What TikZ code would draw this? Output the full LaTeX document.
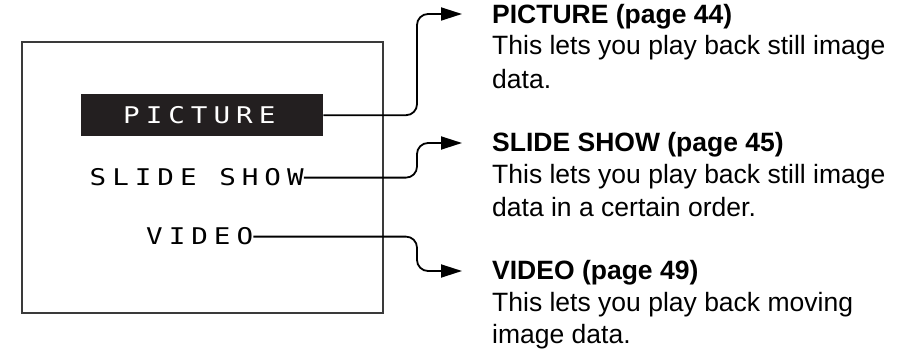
\documentclass[tikz,border=0pt]{standalone}
\usepackage{fontspec}
\setmainfont{Liberation Sans}
\newfontfamily\lcdfont[FakeStretch=1.2,LetterSpace=26]{DejaVu Sans Mono}
\usetikzlibrary{arrows.meta}
\definecolor{lcdblack}{HTML}{231F20}
\definecolor{framegray}{HTML}{3A3A3A}
\begin{document}
\begin{tikzpicture}[x=1pt,y=-1pt,
  lcd/.style={font=\lcdfont\fontsize{23}{27}\selectfont, inner sep=0pt, anchor=base west},
  head/.style={font=\bfseries\fontsize{26.5}{32}\selectfont, inner sep=0pt, anchor=base west},
  desc/.style={font=\fontsize{26.5}{32}\selectfont, inner sep=0pt, anchor=base west},
  conn/.style={line width=1.8pt, rounded corners=11pt, -{Triangle[length=21pt,width=13pt]}},
  frame/.style={draw=framegray, line width=1.6pt, inner sep=0pt, anchor=north west},
  hilite/.style={fill=lcdblack, inner sep=0pt, anchor=north west},
]
\useasboundingbox (0,0) rectangle (911,352);

% screen frame
\node[frame, minimum width=361pt, minimum height=271pt] (screen) at (21,41) {};
% highlight bar
\node[hilite, minimum width=242pt, minimum height=42pt] (picbox) at (81,94) {};

% menu items
\node[lcd, text=white] (pic) at (123,124) {PICTURE};
\node[lcd] (slide) at (89.5,186) {SLIDE SHOW};
\node[lcd] (video) at (146,245) {VIDEO};

% arrow targets
\coordinate (a1) at (462,14);
\coordinate (a2) at (462,143);
\coordinate (a3) at (462,271);

% connectors
\draw[conn] (picbox.east) -| (417,14) -- (a1);
\draw[conn] (slide.east) -| (417,143) -- (a2);
\draw[conn] (video.east) -| (417,271) -- (a3);

% descriptions
\node[head] (h1) at (492,24) {PICTURE (page 44)};
\node[desc] (d1a) at (492,55) {This lets you play back still image};
\node[desc] (d1b) at (492,89) {data.};

\node[head] (h2) at (492,152) {SLIDE SHOW (page 45)};
\node[desc] (d2a) at (492,184) {This lets you play back still image};
\node[desc] (d2b) at (492,217) {data in a certain order.};

\node[head] (h3) at (492,280) {VIDEO (page 49)};
\node[desc] (d3a) at (492,312) {This lets you play back moving};
\node[desc] (d3b) at (492,344) {image data.};
\end{tikzpicture}
\end{document}
